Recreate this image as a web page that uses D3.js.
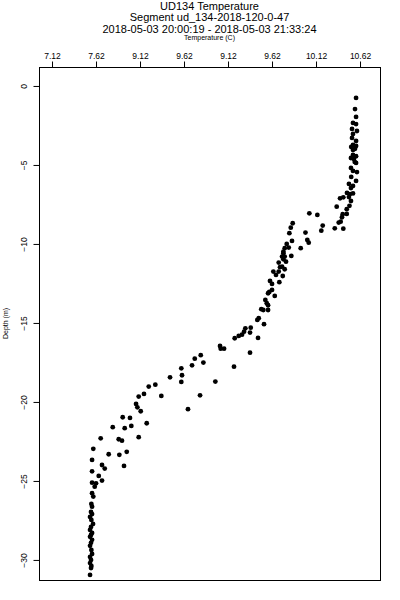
<!DOCTYPE html>
<html>
<head>
<meta charset="utf-8">
<script src="https://cdn.jsdelivr.net/npm/d3@7"></script>
<style>
  body { margin: 0; background: #fff; }
  svg { font-family: "Liberation Sans", Arial, sans-serif; }
  svg text { fill: #000; }
</style>
</head>
<body>
<div id="chart"></div>
<script>
var titleLines = ["UD134 Temperature", "Segment ud_134-2018-120-0-47",
                  "2018-05-03 20:00:19 - 2018-05-03 21:33:24"];
var xLabel = "Temperature (C)";
var yLabel = "Depth (m)";

// tick positions and the labels as printed on the original
var xTicks = [7.12, 7.62, 8.12, 8.62, 9.12, 9.62, 10.12, 10.62];
var xTickLabels = ["7.12", "7.62", "9.12", "9.62", "9.12", "9.62", "10.12", "10.62"];
var yTicks = [0, -5, -10, -15, -20, -25, -30];

var temps = [
  10.575, 10.563, 10.575, 10.54, 10.575, 10.529, 10.585, 10.54, 10.529, 10.575,
  10.54, 10.575, 10.52, 10.563, 10.54, 10.54, 10.575, 10.517, 10.55, 10.56,
  10.575, 10.517, 10.54, 10.585, 10.52, 10.575, 10.494, 10.54, 10.517, 10.472,
  10.506, 10.54, 10.494, 10.393, 10.43, 10.517, 10.355, 10.50, 10.469, 10.423,
  10.469, 10.044, 10.135, 10.415, 10.40, 10.378, 10.196, 10.18, 10.333, 10.43,
  9.855, 9.833, 9.817, 10.0, 10.021, 10.037, 9.847, 9.787, 9.764, 9.81,
  9.749, 9.946, 9.839, 9.734, 9.749, 9.764, 9.749, 9.779, 9.696, 9.734,
  9.711, 9.764, 9.696, 9.635, 9.665, 9.742, 9.703, 9.597, 9.62, 9.62,
  9.589, 9.575, 9.651, 9.544, 9.56, 9.575, 9.498, 9.521, 9.575, 9.469,
  9.453, 9.529, 9.378, 9.317, 9.302, 9.37, 9.279, 9.242, 9.196, 9.461,
  9.029, 9.037, 9.075, 9.37, 8.81, 8.742, 8.84, 8.711, 9.188, 8.589,
  8.597, 8.589, 8.461, 8.976, 8.294, 8.219, 8.165, 8.105, 8.362, 8.802,
  8.075, 8.09, 8.128, 8.665, 7.923, 8.006, 8.196, 7.81, 7.946, 8.021,
  8.105, 7.673, 7.878, 7.915, 7.589, 7.764, 7.885, 7.969, 7.575, 7.688,
  7.719, 7.938, 7.575, 7.651, 7.688, 7.575, 7.62, 7.605, 7.575, 7.589,
  7.567, 7.575, 7.563, 7.575, 7.552, 7.567, 7.586, 7.563, 7.552, 7.575,
  7.563, 7.552, 7.575, 7.563, 7.552, 7.567, 7.575, 7.552, 7.563, 7.552,
  7.567, 7.563, 7.552
];
var depths = [
  -0.76, -1.46, -1.96, -2.34, -2.41, -2.72, -2.85, -3.04, -3.29, -3.48,
  -3.73, -3.80, -3.86, -3.98, -4.05, -4.37, -4.45, -4.56, -4.62, -4.81,
  -4.87, -5.19, -5.38, -5.45, -5.76, -6.01, -6.20, -6.33, -6.46, -6.77,
  -6.84, -6.80, -7.03, -7.11, -7.05, -7.28, -7.64, -7.59, -7.80, -8.12,
  -8.10, -8.06, -8.16, -8.31, -8.59, -8.65, -8.84, -9.16, -9.01, -9.03,
  -8.69, -8.97, -9.32, -9.28, -9.75, -9.92, -9.81, -10.0, -10.27, -10.23,
  -10.49, -10.27, -10.76, -10.80, -10.59, -10.80, -10.97, -11.12, -11.18, -11.44,
  -11.47, -11.60, -11.75, -11.75, -11.96, -12.03, -12.42, -12.34, -12.53, -12.91,
  -13.04, -13.12, -13.29, -13.54, -13.75, -13.88, -14.13, -14.18, -14.18, -14.70,
  -14.81, -15.08, -15.30, -15.34, -15.55, -15.61, -15.74, -15.82, -15.97, -15.95,
  -16.46, -16.63, -16.63, -16.88, -17.04, -17.26, -17.51, -17.68, -17.77, -17.87,
  -18.31, -18.73, -18.44, -18.71, -18.91, -19.03, -19.49, -19.66, -19.62, -19.58,
  -20.13, -20.34, -20.59, -20.46, -20.97, -21.01, -21.35, -21.60, -21.66, -21.52,
  -22.23, -22.30, -22.36, -22.45, -22.97, -23.31, -23.35, -23.16, -23.67, -23.99,
  -24.22, -24.05, -24.39, -24.68, -24.98, -25.11, -25.15, -25.36, -25.78, -25.99,
  -26.46, -26.63, -26.96, -27.10, -27.28, -27.47, -27.72, -27.91, -28.10, -28.29,
  -28.42, -28.54, -28.73, -28.92, -29.11, -29.37, -29.62, -29.81, -30.0, -30.20,
  -30.38, -30.51, -30.95, -31.14
];

var width = 400, height = 600;
var plot = {left: 39, right: 380, top: 67, bottom: 580};

var svg = d3.select("#chart").append("svg")
    .attr("width", width)
    .attr("height", height);

var x = d3.scaleLinear()
    .domain([6.972, 10.847])
    .range([plot.left, plot.right]);

var y = d3.scaleLinear()
    .domain([-31.27, 1.20])
    .range([plot.bottom, plot.top]);

// titles
svg.selectAll(".title")
    .data(titleLines)
    .enter()
    .append("text")
    .attr("class", "title")
    .attr("x", (plot.left + plot.right) / 2)
    .attr("y", function(d, i) { return 10 + i * 11.3; })
    .attr("text-anchor", "middle")
    .style("font-size", "11px")
    .text(function(d) { return d; });

svg.append("text")
    .attr("x", (plot.left + plot.right) / 2)
    .attr("y", 39.5)
    .attr("text-anchor", "middle")
    .style("font-size", "7px")
    .text(xLabel);

// top axis
var xAxis = d3.axisTop(x)
    .tickValues(xTicks)
    .tickSize(6)
    .tickPadding(3)
    .tickFormat(function(d, i) { return xTickLabels[i]; });

var gx = svg.append("g")
    .attr("transform", "translate(0," + (plot.top + 0.5) + ")")
    .call(xAxis);
gx.select(".domain").remove();
gx.selectAll("text").style("font-size", "8.5px").attr("font-family", null);

// left axis
var yAxis = d3.axisLeft(y)
    .tickValues(yTicks)
    .tickSize(6)
    .tickFormat(d3.format("d"));

var gy = svg.append("g")
    .attr("transform", "translate(" + (plot.left + 0.5) + ",0)")
    .call(yAxis);
gy.select(".domain").remove();
gy.selectAll("text")
    .attr("font-family", null)
    .style("font-size", "8.5px")
    .attr("x", null).attr("dy", null)
    .attr("text-anchor", "middle")
    .attr("transform", "translate(-13,0) rotate(-90)")
    .attr("y", 0);

svg.append("text")
    .attr("transform", "translate(8," + ((plot.top + plot.bottom) / 2) + ") rotate(-90)")
    .attr("text-anchor", "middle")
    .style("font-size", "7px")
    .text(yLabel);

// box
svg.append("rect")
    .attr("x", plot.left + 0.5)
    .attr("y", plot.top + 0.5)
    .attr("width", plot.right - plot.left)
    .attr("height", plot.bottom - plot.top)
    .attr("fill", "none")
    .attr("stroke", "#000")
    .attr("stroke-width", 1)
    .attr("shape-rendering", "crispEdges");

var points = temps.map(function(t, i) { return {t: t, d: depths[i]}; });

svg.selectAll(".pt")
    .data(points)
    .enter()
    .append("circle")
    .attr("class", "pt")
    .attr("cx", function(d) { return x(d.t); })
    .attr("cy", function(d) { return y(d.d); })
    .attr("r", 2.4)
    .attr("fill", "#000");
</script>
</body>
</html>
